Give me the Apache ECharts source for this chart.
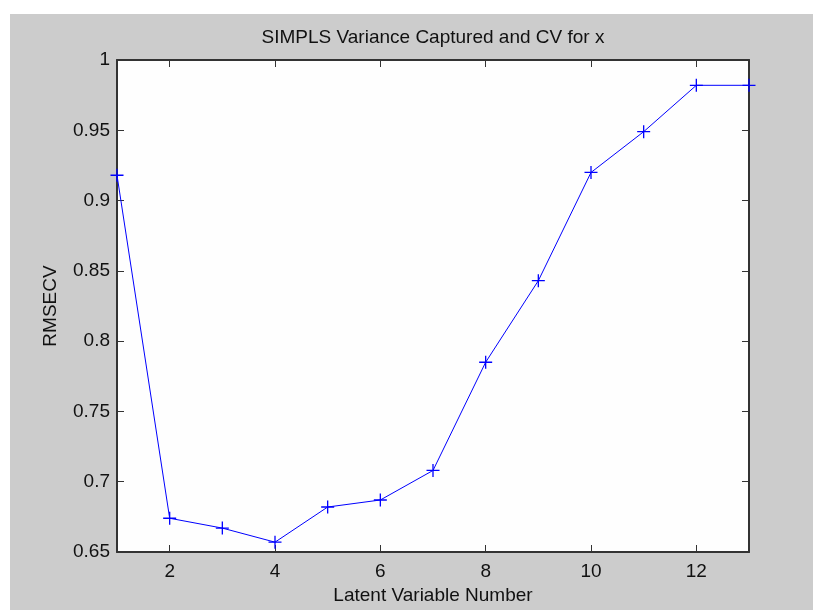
<!DOCTYPE html>
<html><head><meta charset="utf-8">
<script src="https://cdn.jsdelivr.net/npm/echarts@6/dist/echarts.min.js"></script>
<style>html,body{margin:0;padding:0;background:#ffffff;overflow:hidden;} #c{position:absolute;left:10px;top:14px;width:803px;height:596px;}</style>
</head><body><div id="c"></div>
<script>
const titleText = 'SIMPLS Variance Captured and CV for x';
const xName = 'Latent Variable Number';
const yName = 'RMSECV';
const latentVariables = [1, 2, 3, 4, 5, 6, 7, 8, 9, 10, 11, 12, 13];
const rmsecv = [0.918, 0.674, 0.667, 0.657, 0.682, 0.687, 0.708, 0.785, 0.843, 0.920, 0.949, 0.982, 0.982];
const xTicks = [2, 4, 6, 8, 10, 12];
const yMin = 0.65, yMax = 1, yStep = 0.05;

const FONT = 'Arial, "Liberation Sans", sans-serif';
const FS = 19;
const AX = '#333333';
const TXT = '#111111';
const chart = echarts.init(document.getElementById('c'), null, {renderer: 'canvas'});
const plus = 'path://M0,4.5H10V5.5H0Z M4.5,0H5.5V10H4.5Z';
const baseX = {
  type: 'value', min: 1, max: 13,
  axisLine: {show: true, onZero: false, lineStyle: {color: AX, width: 2}},
  axisTick: {show: true, inside: true, length: 7, customValues: xTicks, lineStyle: {color: AX, width: 1}},
  splitLine: {show: false}
};
const baseY = {
  type: 'value', min: yMin, max: yMax, interval: yStep,
  axisLine: {show: true, onZero: false, lineStyle: {color: AX, width: 2}},
  axisTick: {show: true, inside: true, length: 7, lineStyle: {color: AX, width: 1}},
  splitLine: {show: false}
};
chart.setOption({
  animation: false,
  backgroundColor: '#cccccc',
  graphic: [{
    type: 'text', x: 423, y: 24,
    style: {text: titleText, textAlign: 'center', textVerticalAlign: 'middle', font: FS + 'px ' + FONT, fill: TXT}
  }],
  grid: {left: 107, right: 64, top: 46, bottom: 58, show: true, backgroundColor: '#fefefe', borderWidth: 0},
  xAxis: [
    Object.assign({}, baseX, {
      position: 'bottom', name: xName, nameLocation: 'middle', nameGap: 33,
      nameTextStyle: {fontSize: FS, fontFamily: FONT, color: TXT},
      axisLabel: {show: true, customValues: xTicks, margin: 10, fontSize: FS, fontFamily: FONT, color: TXT}
    }),
    Object.assign({}, baseX, {position: 'top', axisLabel: {show: false}})
  ],
  yAxis: [
    Object.assign({}, baseY, {
      position: 'left', name: yName, nameLocation: 'middle', nameGap: 57, nameRotate: 90,
      nameTextStyle: {fontSize: FS, fontFamily: FONT, color: TXT},
      axisLabel: {show: true, margin: 7, fontSize: FS, fontFamily: FONT, color: TXT,
        formatter: v => String(+v.toFixed(2))}
    }),
    Object.assign({}, baseY, {position: 'right', axisLabel: {show: false}})
  ],
  series: [{
    type: 'line', xAxisIndex: 0, yAxisIndex: 0, clip: false,
    data: latentVariables.map((x, i) => [x, rmsecv[i]]),
    lineStyle: {color: '#0000ff', width: 1},
    itemStyle: {color: '#0000ff'},
    symbol: plus, symbolSize: 13, showSymbol: true
  }]
});
</script></body></html>
